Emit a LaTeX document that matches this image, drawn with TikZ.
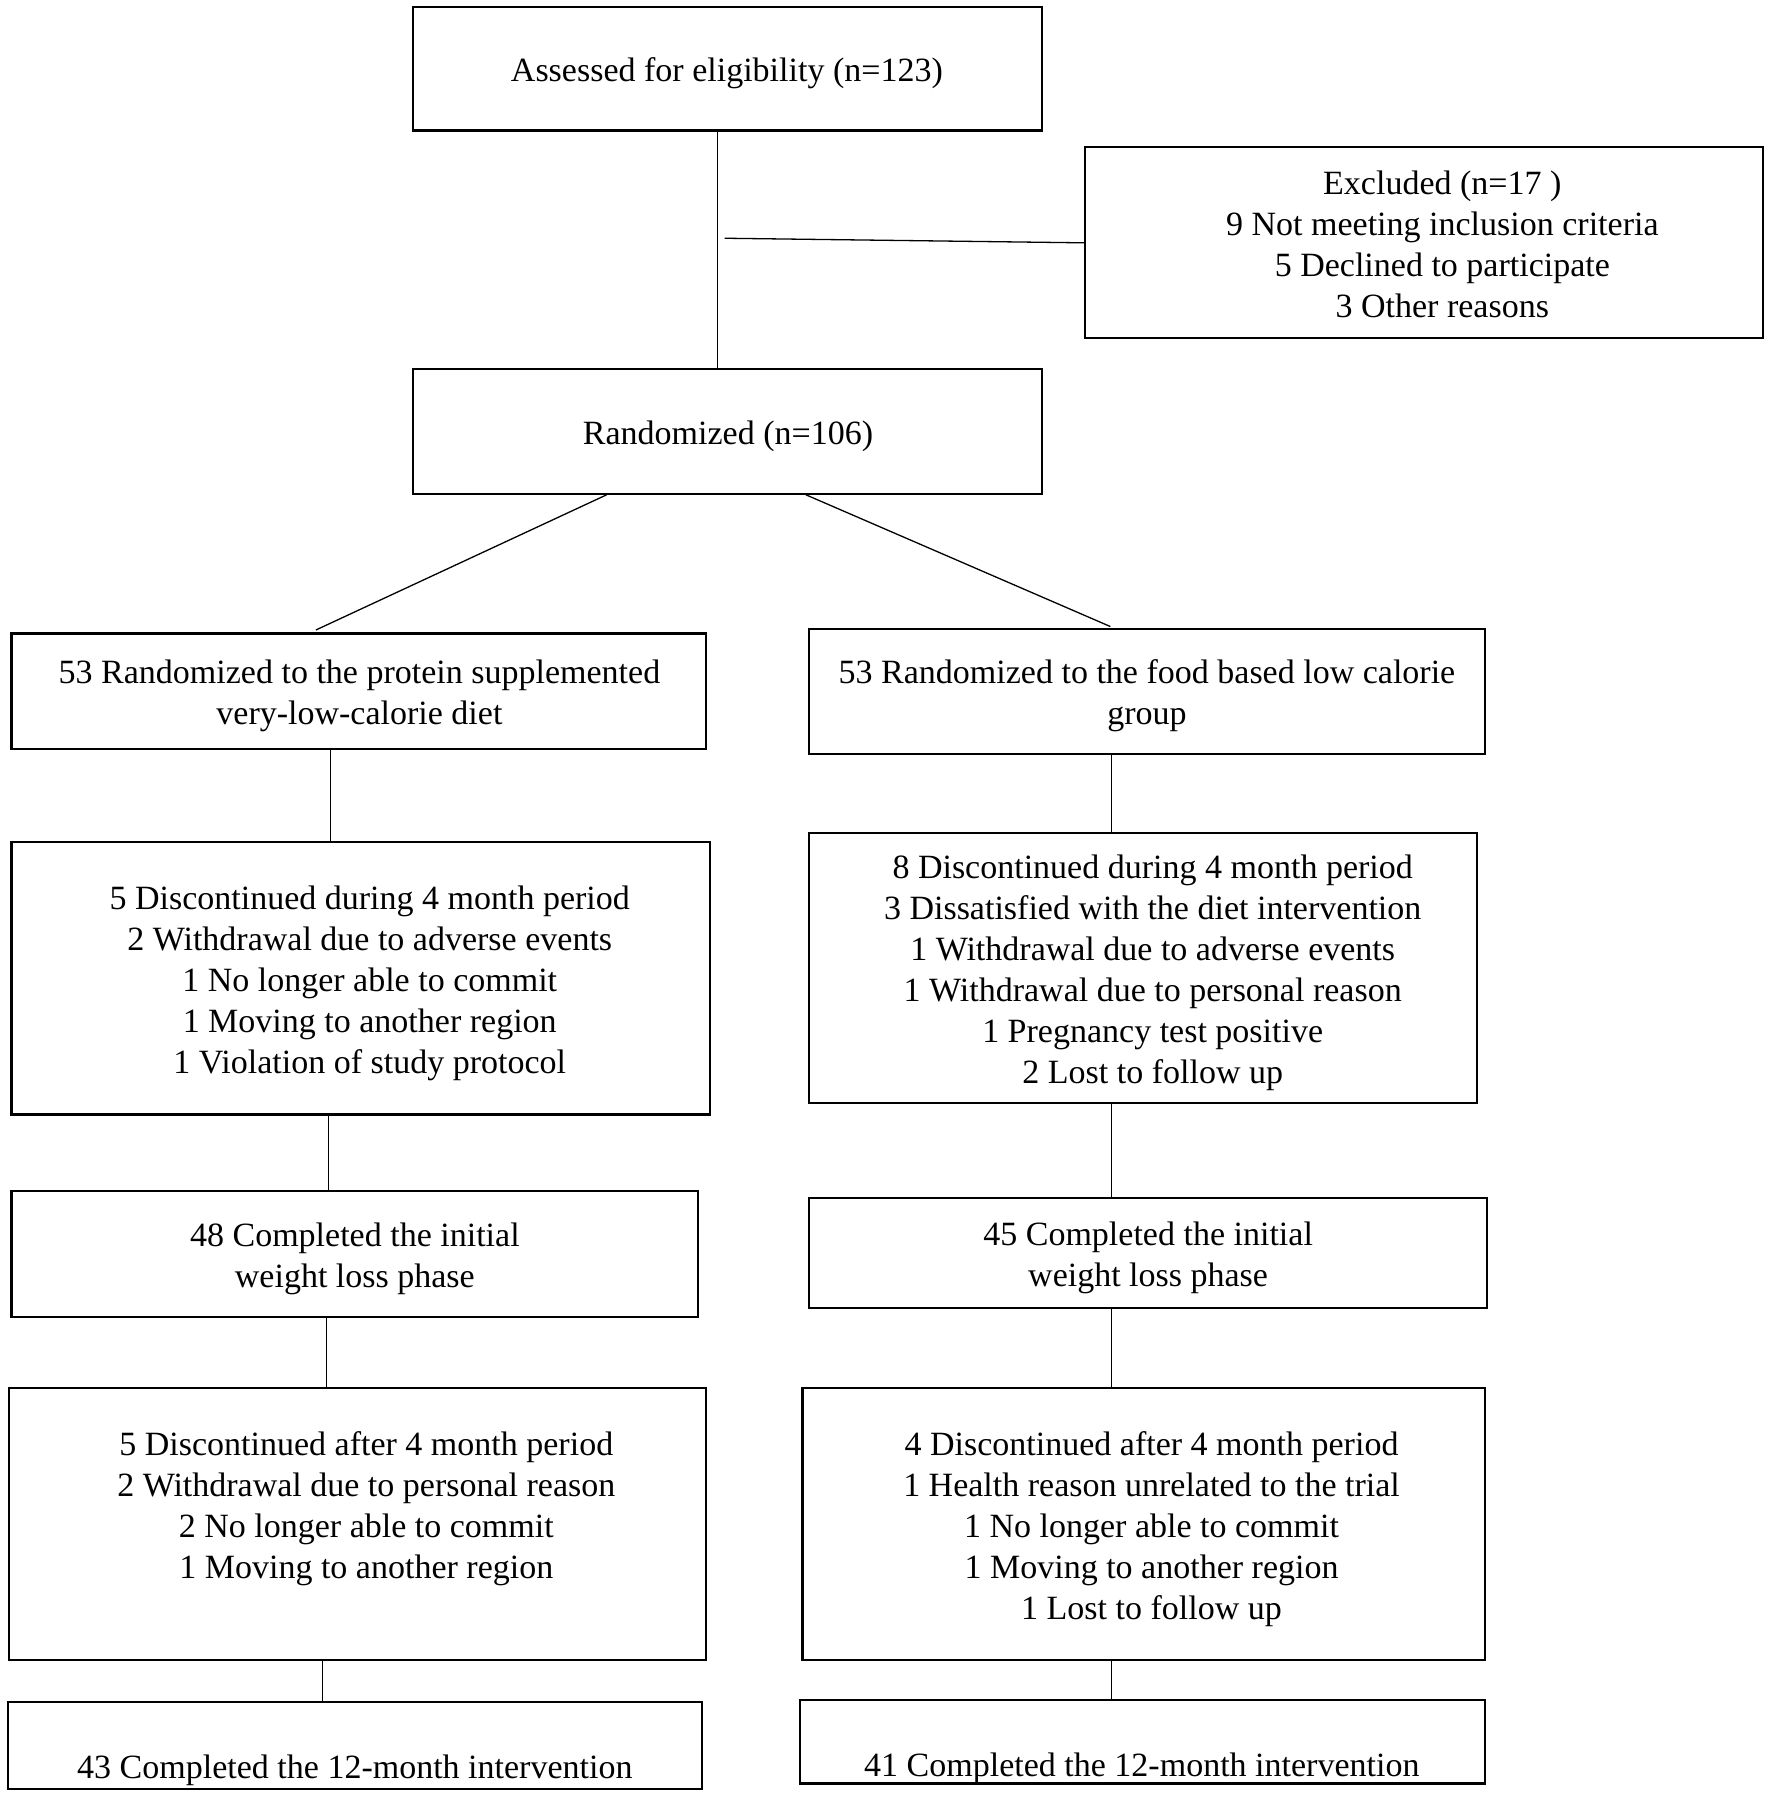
\documentclass[tikz,border=0pt]{standalone}
\usepackage{fontspec}
\setmainfont{Liberation Serif}
\usetikzlibrary{fit}
\begin{document}
\begin{tikzpicture}[x=1.14470pt,y=-1.14541pt,
  box/.style={draw=black,line width=2.2pt,inner sep=0pt,fill=none},
  txt/.style={align=center,inner sep=0pt,font=\fontsize{34}{41}\selectfont},
  conn/.style={draw=black,line width=1.3pt}]
\useasboundingbox[fill=white] (0,0) rectangle (1548,1568);
% boxes
\node[box,fit={(361,6) (910,114)}] (a) {};
\node[box,fit={(948,128) (1540,295)}] (ex) {};
\node[box,fit={(361,322) (910,431)}] (r) {};
\node[box,fit={(10,553) (617,654)}] (l1) {};
\node[box,fit={(707,549) (1297,658)}] (r1) {};
\node[box,fit={(10,735) (620,973)}] (l2) {};
\node[box,fit={(707,727) (1290,963)}] (r2) {};
\node[box,fit={(10,1040) (610,1150)}] (l3) {};
\node[box,fit={(707,1046) (1299,1142)}] (r3) {};
\node[box,fit={(8,1212) (617,1449)}] (l4) {};
\node[box,fit={(701,1212) (1297,1449)}] (r4) {};
\node[box,fit={(7,1486) (613,1562)}] (l5) {};
\node[box,fit={(699,1484) (1297,1557)}] (r5) {};
% texts
\node[txt] (ta) at (635,64) {Assessed for eligibility (n=123)};
\node[txt] (tex) at (1260,213.5) {Excluded (n=17 )\\9 Not meeting inclusion criteria\\5 Declined to participate\\3 Other reasons};
\node[txt] (tr) at (636,381) {Randomized (n=106)};
\node[txt] (tl1) at (314,607.5) {53 Randomized to the protein supplemented\\very-low-calorie diet};
\node[txt] (tr1) at (1002,607.5) {53 Randomized to the food based low calorie\\group};
\node[txt] (tl2) at (323,858.5) {5 Discontinued during 4 month period\\2 Withdrawal due to adverse events\\1 No longer able to commit\\1 Moving to another region\\1 Violation of study protocol};
\node[txt] (tr2) at (1007,849) {8 Discontinued during 4 month period\\3 Dissatisfied with the diet intervention\\1 Withdrawal due to adverse events\\1 Withdrawal due to personal reason\\1 Pregnancy test positive\\2 Lost to follow up};
\node[txt] (tl3) at (310,1099) {48 Completed the initial\\weight loss phase};
\node[txt] (tr3) at (1003,1098) {45 Completed the initial\\weight loss phase};
\node[txt] (tl4) at (320,1317) {5 Discontinued after 4 month period\\2 Withdrawal due to personal reason\\2 No longer able to commit\\1 Moving to another region};
\node[txt] (tr4) at (1006,1335) {4 Discontinued after 4 month period\\1 Health reason unrelated to the trial\\1 No longer able to commit\\1 Moving to another region\\1 Lost to follow up};
\node[txt] (tl5) at (310,1545.5) {43 Completed the 12-month intervention};
\node[txt] (tr5) at (997.5,1543.5) {41 Completed the 12-month intervention};
% connectors
\coordinate (exl) at (633,208);
\draw[conn] (a.south -| 627,0) -- (r.north -| 627,0);
\draw[conn] (exl) -- (ex.west |- 0,212);
\draw[conn] (r.south -| 530,0) -- (276,550);
\draw[conn] (r.south -| 704,0) -- (970,547);
\draw[conn] (l1.south -| 289,0) -- (l2.north -| 289,0);
\draw[conn] (r1.south -| 971,0) -- (r2.north -| 971,0);
\draw[conn] (l2.south -| 287,0) -- (l3.north -| 287,0);
\draw[conn] (r2.south -| 971,0) -- (r3.north -| 971,0);
\draw[conn] (l3.south -| 285,0) -- (l4.north -| 285,0);
\draw[conn] (r3.south -| 971,0) -- (r4.north -| 971,0);
\draw[conn] (l4.south -| 282,0) -- (l5.north -| 282,0);
\draw[conn] (r4.south -| 971,0) -- (r5.north -| 971,0);
\end{tikzpicture}
\end{document}
